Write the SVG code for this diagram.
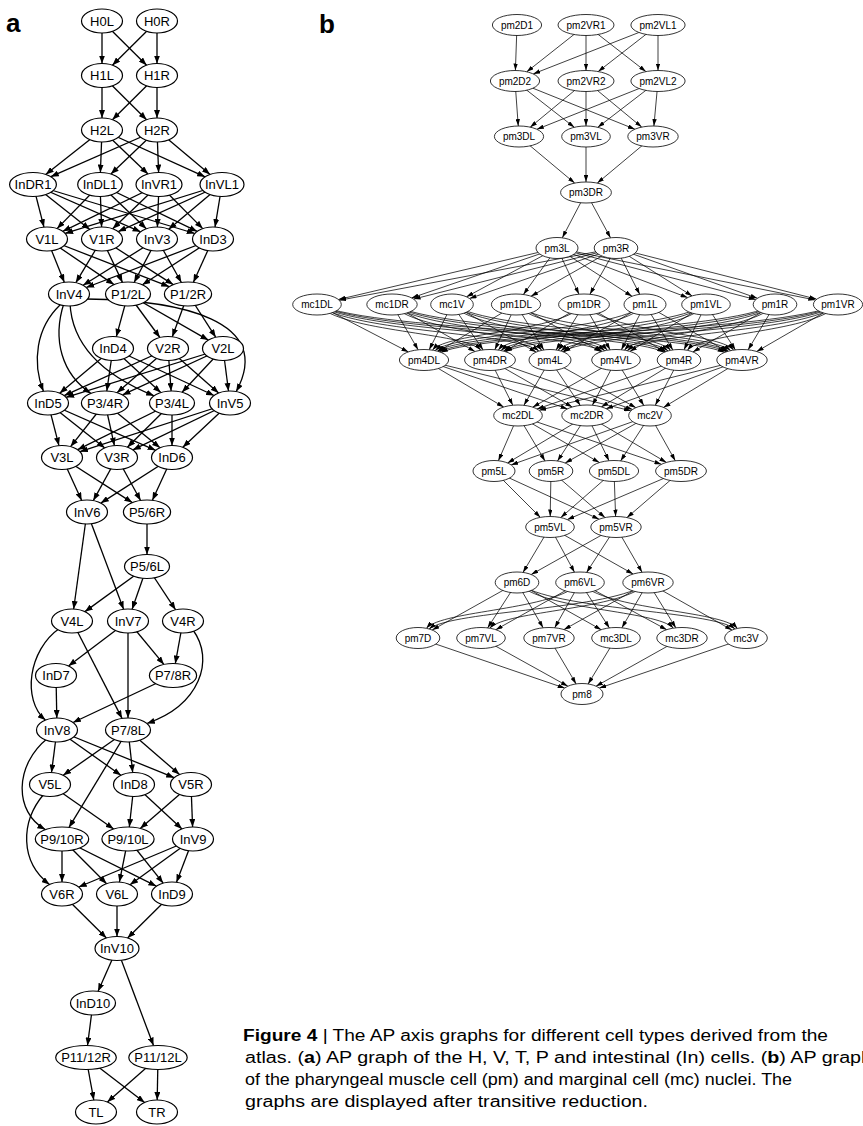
<svg xmlns="http://www.w3.org/2000/svg" width="863" height="1126" viewBox="0 0 863 1126">
<defs>
<marker id="arA" viewBox="0 0 8 6" refX="8" refY="3" markerWidth="8" markerHeight="6" orient="auto" markerUnits="userSpaceOnUse"><path d="M0,0 L8,3 L0,6 z" fill="#000"/></marker>
<marker id="arB" viewBox="0 0 7 4.4" refX="7" refY="2.2" markerWidth="7" markerHeight="4.4" orient="auto" markerUnits="userSpaceOnUse"><path d="M0,0 L7,2.2 L0,4.4 z" fill="#000"/></marker>
<style>
.na ellipse{fill:#fff;stroke:#000;stroke-width:1.2}
.na text{font-family:"Liberation Sans",Arial,sans-serif;font-size:13px;text-anchor:middle;fill:#000}
.nb ellipse{fill:#fff;stroke:#000;stroke-width:0.8}
.nb text{font-family:"Liberation Sans",Arial,sans-serif;font-size:10px;text-anchor:middle;fill:#000}
.ea path{fill:none;stroke:#000;stroke-width:1.3;marker-end:url(#arA)}
.eb path{fill:none;stroke:#000;stroke-width:0.75;marker-end:url(#arB)}
.lbl{font-family:"Liberation Sans",Arial,sans-serif;font-size:26px;font-weight:bold;fill:#000}
.cap{font-family:"Liberation Sans",Arial,sans-serif;font-size:16px;fill:#000}
</style>
</defs>
<rect width="863" height="1126" fill="#fff"/>

<g id="edges-a" class="ea">
<path d="M102,21 L102,63.5"/><path d="M102,21 L146.6,65.2"/><path d="M157,21 L112.4,65.2"/><path d="M157,21 L157,63.5"/>
<path d="M102,75.5 L102,118"/><path d="M102,75.5 L146.6,119.7"/><path d="M157,75.5 L112.4,119.7"/><path d="M157,75.5 L157,118"/>
<path d="M102,130 L45.7,174.4"/><path d="M157,130 L50.8,176.7"/><path d="M102,130 L100.4,172.5"/><path d="M157,130 L110.9,174"/>
<path d="M102,130 L148,174"/><path d="M157,130 L158.6,172.5"/><path d="M102,130 L205.1,176.8"/><path d="M157,130 L210,174.4"/>
<path d="M33,184.5 L43.95,227.1"/><path d="M100,184.5 L57.1,228.6"/><path d="M159,184.5 L62.8,231.3"/><path d="M222,184.5 L65.1,233.4"/>
<path d="M33,184.5 L89.8,229.4"/><path d="M100,184.5 L101.6,227"/><path d="M159,184.5 L112.7,228.8"/><path d="M222,184.5 L118.2,231.6"/>
<path d="M33,184.5 L140.6,231.8"/><path d="M100,184.5 L146.3,228.8"/><path d="M159,184.5 L157.4,227"/><path d="M222,184.5 L168.7,229.2"/>
<path d="M33,184.5 L194.8,233.5"/><path d="M100,184.5 L197.2,231.4"/><path d="M159,184.5 L202.7,228.6"/><path d="M222,184.5 L215,227.05"/>
<path d="M47,239 L64.3,282.3"/><path d="M102,239 L75.85,282.7"/><path d="M157,239 L83.1,285.3"/><path d="M213,239 L86.2,287.5"/>
<path d="M47,239 L114,284.6"/><path d="M102,239 L122.45,282.4"/><path d="M157,239 L134.1,282.5"/><path d="M213,239 L142.4,284.8"/>
<path d="M47,239 L169.2,286.7"/><path d="M102,239 L173.2,284.6"/><path d="M157,239 L181.4,282.5"/><path d="M213,239 L193.4,282.3"/>
<path d="M128,294 L116.3,336.65"/><path d="M128,294 L159.9,337.5"/><path d="M128,294 L208.35,340.1"/><path d="M188,294 L172.3,336.8"/><path d="M188,294 L215.8,337.3"/>
<path d="M60,305 C36,328 32,362 43.4,391.3"/>
<path d="M64,303 C52,340 62,374 90.8,393.4"/>
<path d="M70,303 C72,350 110,378 154.1,395.8"/>
<path d="M86,299 C180,300 275,320 236.2,391.6"/>
<path d="M113,348.5 L59.7,393.2"/><path d="M168,348.5 L64.2,395.6"/><path d="M223,348.5 L66.1,397.35"/>
<path d="M113,348.5 L106.8,391"/><path d="M168,348.5 L117,392.65"/><path d="M223,348.5 L122.5,394.9"/>
<path d="M113,348.5 L160.75,392.6"/><path d="M168,348.5 L171.1,391"/><path d="M223,348.5 L182.05,392.3"/>
<path d="M113,348.5 L214.05,395.5"/><path d="M168,348.5 L218.6,393"/><path d="M223,348.5 L228.5,391"/>
<path d="M48,403 L58.95,445.6"/><path d="M105,403 L70.6,446.6"/><path d="M172,403 L77.65,449.7"/><path d="M230,403 L79.9,451.7"/>
<path d="M48,403 L104.8,447.9"/><path d="M105,403 L114.4,445.6"/><path d="M172,403 L127.4,447.2"/><path d="M230,403 L132.8,449.9"/>
<path d="M48,403 L155.6,450.3"/><path d="M105,403 L160,447.8"/><path d="M172,403 L172,445.5"/><path d="M230,403 L182.8,447.3"/>
<path d="M62,457.5 L81.7,500.4"/><path d="M117,457.5 L93.3,500.6"/><path d="M172,457.5 L100.8,503.1"/>
<path d="M62,457.5 L132.3,502.6"/><path d="M117,457.5 L140.6,500.45"/><path d="M172,457.5 L152.4,500.3"/>
<path d="M147,512 L147,554.5"/><path d="M87,512 L73.65,609"/><path d="M87,512 L123.6,609.3"/>
<path d="M147,566.5 L84.9,611.65"/><path d="M147,566.5 L132.1,609.2"/><path d="M147,566.5 L175.6,609.8"/>
<path d="M128,621 L68.5,666"/><path d="M128,621 L163.9,664.4"/><path d="M183,621 L175.3,663.55"/>
<path d="M128,621 L128,718"/><path d="M72,621 L122.05,718.4"/>
<path d="M60,628 C28,650 22,700 45.4,720.1"/>
<path d="M193,630 C215,660 200,705 146.9,723.5"/>
<path d="M56,675.5 L56.8,718"/><path d="M173,675.5 L73,722.5"/>
<path d="M57,730 L51.5,772.5"/><path d="M57,730 L120.9,775.25"/><path d="M57,730 L174.2,777.65"/>
<path d="M128,730 L63.2,775.3"/><path d="M128,730 L132.7,772.5"/><path d="M128,730 L179.5,774.6"/>
<path d="M48,738 C14,765 14,812 45.3,829.6"/>
<path d="M128,730 L69,827.4"/>
<path d="M50,784.5 L113.65,829"/><path d="M134,784.5 L129.3,827"/><path d="M134,784.5 L182,828.9"/><path d="M191,784.5 L140.25,828.4"/><path d="M191,784.5 L192.6,827"/>
<path d="M44,794 C20,822 20,862 49.5,884.5"/>
<path d="M62,839 L62,882"/><path d="M62,839 L106.6,883.7"/><path d="M62,839 L156.35,886.2"/>
<path d="M128,839 L119.4,882.1"/><path d="M128,839 L163.2,883.15"/>
<path d="M193,839 L78.7,887"/><path d="M193,839 L130,884.7"/><path d="M193,839 L176.5,882.3"/>
<path d="M62,894 L106.4,938"/><path d="M117,894 L117,936.5"/><path d="M172,894 L127.6,938"/>
<path d="M117,948.5 L98.1,991.3"/><path d="M117,948.5 L153.5,1045.6"/>
<path d="M93,1003 L87.5,1045.5"/>
<path d="M86,1057.5 L93.8,1100.1"/><path d="M86,1057.5 L144.6,1102.45"/><path d="M158,1057.5 L107.4,1102"/><path d="M158,1057.5 L157.2,1100"/>
</g>

<g id="edges-b" class="eb">
<path d="M517,25 L515.4,70.5"/><path d="M586,25 L526.75,71.8"/><path d="M586,25 L586,70.5"/><path d="M586,25 L645.9,71.6"/>
<path d="M658,25 L533.2,73.9"/><path d="M658,25 L598.2,71.55"/><path d="M658,25 L658,70.5"/>
<path d="M515,81 L518.25,126"/><path d="M586,81 L530.2,127.2"/><path d="M658,81 L536.9,129.3"/>
<path d="M515,81 L574.3,127.3"/><path d="M586,81 L586,126"/><path d="M658,81 L597.8,127.3"/>
<path d="M515,81 L634.9,129.2"/><path d="M586,81 L641.7,127.1"/><path d="M658,81 L653.9,126"/>
<path d="M519,136.5 L574.7,183.1"/><path d="M586,136.5 L586,182"/><path d="M653,136.5 L597.3,183.1"/>
<path d="M586,192.5 L562.3,237.8"/><path d="M586,192.5 L610.5,237.8"/>
<path d="M557,248 L338.4,299.5"/><path d="M616,248 L339.3,300.3"/>
<path d="M557,248 L411.6,297.9"/><path d="M616,248 L413.6,299.1"/>
<path d="M557,248 L466.5,296.8"/><path d="M616,248 L469.5,298.5"/>
<path d="M557,248 L523.4,294.5"/><path d="M616,248 L531,296.2"/>
<path d="M557,248 L579,294.2"/><path d="M616,248 L589.9,294.3"/>
<path d="M557,248 L632,296.3"/><path d="M616,248 L639.7,294.3"/>
<path d="M557,248 L687.6,297.6"/><path d="M616,248 L692.1,295.9"/>
<path d="M557,248 L755.7,299.6"/><path d="M616,248 L757.4,298.3"/>
<path d="M557,248 L815.25,300"/><path d="M616,248 L816.4,299.1"/>
<path d="M317,304.5 L408.4,351.9"/><path d="M392,304.5 L418.1,349.8"/><path d="M452,304.5 L429.2,349.7"/><path d="M516,304.5 L438.2,351.4"/>
<path d="M584,304.5 C560,332.5 448,332 432.45,350.1"/>
<path d="M645,304.5 C611.85,332.5 457.15,332 435.1,350.6"/>
<path d="M706,304.5 C663.7,332.5 466.3,332 437.3,351.2"/>
<path d="M775,304.5 C722.35,332.5 476.65,332 439.4,351.8"/>
<path d="M838,304.5 C775.9,332.5 486.1,332 440.9,352.4"/>
<path d="M317,304.5 C342.95,332.5 464.05,332 480.9,350.2"/>
<path d="M392,304.5 L475,351.5"/><path d="M452,304.5 L483.1,349.9"/><path d="M516,304.5 L494.8,349.7"/><path d="M584,304.5 L504.6,351.4"/>
<path d="M645,304.5 C621.75,332.5 513.25,332 498.25,350.1"/>
<path d="M706,304.5 C673.6,332.5 522.4,332 501,350.5"/>
<path d="M775,304.5 C732.25,332.5 532.75,332 503.6,351.1"/>
<path d="M838,304.5 C785.8,332.5 542.2,332 505.5,351.7"/>
<path d="M317,304.5 C351.95,332.5 515.05,332 538.9,351.1"/>
<path d="M392,304.5 C415.7,332.5 526.3,332 541.8,350.3"/>
<path d="M452,304.5 L536.1,352.1"/><path d="M516,304.5 L543.85,350"/><path d="M584,304.5 L556.15,350"/><path d="M645,304.5 L563.65,352"/>
<path d="M706,304.5 C682.6,332.5 573.4,332 558.1,350.3"/>
<path d="M775,304.5 C741.25,332.5 583.75,332 560.8,351"/>
<path d="M838,304.5 C794.8,332.5 593.2,332 562.8,351.7"/>
<path d="M317,304.5 C361.85,332.5 571.15,332 602.2,351.4"/>
<path d="M392,304.5 C425.6,332.5 582.4,332 604.8,350.7"/>
<path d="M452,304.5 C476.6,332.5 591.4,332 607.4,350.2"/>
<path d="M516,304.5 L601.1,351.7"/><path d="M584,304.5 L610.1,349.8"/><path d="M645,304.5 L621.35,349.8"/><path d="M706,304.5 L629.9,351.4"/>
<path d="M775,304.5 C751.15,332.5 639.85,332 624.4,350.15"/>
<path d="M838,304.5 C804.7,332.5 649.3,332 627.1,350.7"/>
<path d="M317,304.5 C371.3,332.5 624.7,332 664.1,352.3"/>
<path d="M392,304.5 C435.05,332.5 635.95,332 666,351.6"/>
<path d="M452,304.5 C486.05,332.5 644.95,332 668,350.9"/>
<path d="M516,304.5 C540.45,332.5 654.55,332 670.55,350.3"/>
<path d="M584,304.5 L665.1,351.9"/><path d="M645,304.5 L672.8,349.9"/><path d="M706,304.5 L684,349.8"/><path d="M775,304.5 L692.95,351.9"/>
<path d="M838,304.5 C814.15,332.5 702.85,332 687.3,350.3"/>
<path d="M317,304.5 C380.75,332.5 678.25,332 724.7,352.4"/>
<path d="M392,304.5 C444.5,332.5 689.5,332 726.5,351.7"/>
<path d="M452,304.5 C495.5,332.5 698.5,332 728.3,351.2"/>
<path d="M516,304.5 C549.9,332.5 708.1,332 730.65,350.6"/>
<path d="M584,304.5 C607.7,332.5 718.3,332 733.6,350.1"/>
<path d="M645,304.5 L727.2,351.5"/><path d="M706,304.5 L735.4,349.9"/><path d="M775,304.5 L748.1,349.8"/><path d="M838,304.5 L756.7,351.5"/>
<path d="M424,360 L503.65,407"/><path d="M490,360 L512.8,405.2"/><path d="M550,360 L523.9,405.3"/><path d="M616,360 L532.7,407.15"/><path d="M679,360 L537,409"/><path d="M742,360 L539.1,410.3"/>
<path d="M424,360 L567.5,408.9"/><path d="M490,360 L572.2,407"/><path d="M550,360 L580.3,405.4"/><path d="M616,360 L592.4,405.2"/><path d="M679,360 L601.3,406.9"/><path d="M742,360 L606.1,408.7"/>
<path d="M424,360 L630.9,410.8"/><path d="M490,360 L632.6,409.5"/><path d="M550,360 L635.9,407.65"/><path d="M616,360 L643.8,405.45"/><path d="M679,360 L655.3,405.3"/><path d="M742,360 L663.5,407.4"/>
<path d="M518,415.5 L498.4,460.7"/><path d="M587,415.5 L507.5,463"/><path d="M650,415.5 L511.1,464.9"/>
<path d="M518,415.5 L545,460.9"/><path d="M587,415.5 L557.5,461"/><path d="M650,415.5 L565.2,463"/>
<path d="M518,415.5 L599.4,462.55"/><path d="M587,415.5 L609,460.7"/><path d="M650,415.5 L620.6,460.9"/>
<path d="M518,415.5 L661.4,464.3"/><path d="M587,415.5 L666.4,462.4"/><path d="M650,415.5 L675.3,460.8"/>
<path d="M494,471 L540.4,517.4"/><path d="M551,471 L550.2,516.5"/><path d="M614,471 L560.8,517.6"/><path d="M681,471 L567.3,519.6"/>
<path d="M494,471 L599.1,519.2"/><path d="M551,471 L605,517.55"/><path d="M614,471 L615.6,516.5"/><path d="M681,471 L627,517.55"/>
<path d="M550,527 L523,572.4"/><path d="M616,527 L531.2,574.5"/><path d="M550,527 L574.5,572.3"/><path d="M616,527 L586.6,572.4"/><path d="M550,527 L633.1,574"/><path d="M616,527 L642.1,572.3"/>
<path d="M517,582.5 L432.2,630"/>
<path d="M580,582.5 C555.7,610.5 442.3,610 426.4,628.3"/>
<path d="M648,582.5 C613.5,610.5 452.5,610 429.1,629"/>
<path d="M517,582.5 L487.6,627.9"/><path d="M580,582.5 L495.8,629.7"/>
<path d="M648,582.5 C622.95,610.5 506.05,610 489.8,628.2"/>
<path d="M517,582.5 L543.1,627.8"/><path d="M580,582.5 L554.7,627.8"/><path d="M648,582.5 L564,629.6"/>
<path d="M517,582.5 L601.2,629.7"/><path d="M580,582.5 L609.4,627.9"/><path d="M648,582.5 L621.9,627.8"/>
<path d="M517,582.5 C541.75,610.5 657.25,610 673.3,628.15"/>
<path d="M580,582.5 L666.7,629.7"/><path d="M648,582.5 L675.8,627.8"/>
<path d="M517,582.5 C551.35,610.5 711.65,610 735,629"/>
<path d="M580,582.5 C604.9,610.5 721.1,610 737.45,628.4"/>
<path d="M648,582.5 L732,630.1"/>
<path d="M418,638 L564.7,688.1"/><path d="M481,638 L567.9,686.2"/><path d="M549,638 L576.1,683.9"/><path d="M616,638 L588.1,684"/><path d="M682,638 L596,686.2"/><path d="M746,638 L599.3,688.1"/>
</g>

<g id="nodes-a" class="na">
<g id="n-H0L"><ellipse cx="102" cy="21" rx="20.5" ry="12"/><text x="102" y="25.6">H0L</text></g>
<g id="n-H0R"><ellipse cx="157" cy="21" rx="20.5" ry="12"/><text x="157" y="25.6">H0R</text></g>
<g id="n-H1L"><ellipse cx="102" cy="75.5" rx="20.5" ry="12"/><text x="102" y="80.1">H1L</text></g>
<g id="n-H1R"><ellipse cx="157" cy="75.5" rx="20.5" ry="12"/><text x="157" y="80.1">H1R</text></g>
<g id="n-H2L"><ellipse cx="102" cy="130" rx="20.5" ry="12"/><text x="102" y="134.6">H2L</text></g>
<g id="n-H2R"><ellipse cx="157" cy="130" rx="20.5" ry="12"/><text x="157" y="134.6">H2R</text></g>
<g id="n-InDR1"><ellipse cx="33" cy="184.5" rx="23.4" ry="12"/><text x="33" y="189.1">InDR1</text></g>
<g id="n-InDL1"><ellipse cx="100" cy="184.5" rx="22.3" ry="12"/><text x="100" y="189.1">InDL1</text></g>
<g id="n-InVR1"><ellipse cx="159" cy="184.5" rx="23" ry="12"/><text x="159" y="189.1">InVR1</text></g>
<g id="n-InVL1"><ellipse cx="222" cy="184.5" rx="22" ry="12"/><text x="222" y="189.1">InVL1</text></g>
<g id="n-V1L"><ellipse cx="47" cy="239" rx="20.5" ry="12"/><text x="47" y="243.6">V1L</text></g>
<g id="n-V1R"><ellipse cx="102" cy="239" rx="20.5" ry="12"/><text x="102" y="243.6">V1R</text></g>
<g id="n-InV3"><ellipse cx="157" cy="239" rx="20.5" ry="12"/><text x="157" y="243.6">InV3</text></g>
<g id="n-InD3"><ellipse cx="213" cy="239" rx="20.5" ry="12"/><text x="213" y="243.6">InD3</text></g>
<g id="n-InV4"><ellipse cx="69" cy="294" rx="20.5" ry="12"/><text x="69" y="298.6">InV4</text></g>
<g id="n-P1_2L"><ellipse cx="128" cy="294" rx="22.5" ry="12"/><text x="128" y="298.6">P1/2L</text></g>
<g id="n-P1_2R"><ellipse cx="188" cy="294" rx="23.6" ry="12"/><text x="188" y="298.6">P1/2R</text></g>
<g id="n-InD4"><ellipse cx="113" cy="348.5" rx="20.5" ry="12"/><text x="113" y="353.1">InD4</text></g>
<g id="n-V2R"><ellipse cx="168" cy="348.5" rx="20.5" ry="12"/><text x="168" y="353.1">V2R</text></g>
<g id="n-V2L"><ellipse cx="223" cy="348.5" rx="20.5" ry="12"/><text x="223" y="353.1">V2L</text></g>
<g id="n-InD5"><ellipse cx="48" cy="403" rx="20.5" ry="12"/><text x="48" y="407.6">InD5</text></g>
<g id="n-P3_4R"><ellipse cx="105" cy="403" rx="23.6" ry="12"/><text x="105" y="407.6">P3/4R</text></g>
<g id="n-P3_4L"><ellipse cx="172" cy="403" rx="22.5" ry="12"/><text x="172" y="407.6">P3/4L</text></g>
<g id="n-InV5"><ellipse cx="230" cy="403" rx="20.5" ry="12"/><text x="230" y="407.6">InV5</text></g>
<g id="n-V3L"><ellipse cx="62" cy="457.5" rx="20.5" ry="12"/><text x="62" y="462.1">V3L</text></g>
<g id="n-V3R"><ellipse cx="117" cy="457.5" rx="20.5" ry="12"/><text x="117" y="462.1">V3R</text></g>
<g id="n-InD6"><ellipse cx="172" cy="457.5" rx="20.5" ry="12"/><text x="172" y="462.1">InD6</text></g>
<g id="n-InV6"><ellipse cx="87" cy="512" rx="20.5" ry="12"/><text x="87" y="516.6">InV6</text></g>
<g id="n-P5_6R"><ellipse cx="147" cy="512" rx="23.6" ry="12"/><text x="147" y="516.6">P5/6R</text></g>
<g id="n-P5_6L"><ellipse cx="147" cy="566.5" rx="22.5" ry="12"/><text x="147" y="571.1">P5/6L</text></g>
<g id="n-V4L"><ellipse cx="72" cy="621" rx="20.5" ry="12"/><text x="72" y="625.6">V4L</text></g>
<g id="n-InV7"><ellipse cx="128" cy="621" rx="20.5" ry="12"/><text x="128" y="625.6">InV7</text></g>
<g id="n-V4R"><ellipse cx="183" cy="621" rx="20.5" ry="12"/><text x="183" y="625.6">V4R</text></g>
<g id="n-InD7"><ellipse cx="56" cy="675.5" rx="20.5" ry="12"/><text x="56" y="680.1">InD7</text></g>
<g id="n-P7_8R"><ellipse cx="173" cy="675.5" rx="23.6" ry="12"/><text x="173" y="680.1">P7/8R</text></g>
<g id="n-InV8"><ellipse cx="57" cy="730" rx="20.5" ry="12"/><text x="57" y="734.6">InV8</text></g>
<g id="n-P7_8L"><ellipse cx="128" cy="730" rx="22.5" ry="12"/><text x="128" y="734.6">P7/8L</text></g>
<g id="n-V5L"><ellipse cx="50" cy="784.5" rx="20.5" ry="12"/><text x="50" y="789.1">V5L</text></g>
<g id="n-InD8"><ellipse cx="134" cy="784.5" rx="20.5" ry="12"/><text x="134" y="789.1">InD8</text></g>
<g id="n-V5R"><ellipse cx="191" cy="784.5" rx="20.5" ry="12"/><text x="191" y="789.1">V5R</text></g>
<g id="n-P9_10R"><ellipse cx="62" cy="839" rx="26.7" ry="12"/><text x="62" y="843.6">P9/10R</text></g>
<g id="n-P9_10L"><ellipse cx="128" cy="839" rx="26.1" ry="12"/><text x="128" y="843.6">P9/10L</text></g>
<g id="n-InV9"><ellipse cx="193" cy="839" rx="20.5" ry="12"/><text x="193" y="843.6">InV9</text></g>
<g id="n-V6R"><ellipse cx="62" cy="894" rx="20.5" ry="12"/><text x="62" y="898.6">V6R</text></g>
<g id="n-V6L"><ellipse cx="117" cy="894" rx="20.5" ry="12"/><text x="117" y="898.6">V6L</text></g>
<g id="n-InD9"><ellipse cx="172" cy="894" rx="20.5" ry="12"/><text x="172" y="898.6">InD9</text></g>
<g id="n-InV10"><ellipse cx="117" cy="948.5" rx="22" ry="12"/><text x="117" y="953.1">InV10</text></g>
<g id="n-InD10"><ellipse cx="93" cy="1003" rx="22.5" ry="12"/><text x="93" y="1007.6">InD10</text></g>
<g id="n-P11_12R"><ellipse cx="86" cy="1057.5" rx="30.3" ry="12"/><text x="86" y="1062.1">P11/12R</text></g>
<g id="n-P11_12L"><ellipse cx="158" cy="1057.5" rx="29.2" ry="12"/><text x="158" y="1062.1">P11/12L</text></g>
<g id="n-TL"><ellipse cx="96" cy="1112" rx="20.5" ry="12"/><text x="96" y="1116.6">TL</text></g>
<g id="n-TR"><ellipse cx="157" cy="1112" rx="20.5" ry="12"/><text x="157" y="1116.6">TR</text></g>
</g>

<g id="nodes-b" class="nb">
<g id="n-pm2D1"><ellipse cx="517" cy="25" rx="24.6" ry="10.5"/><text x="517" y="28.6">pm2D1</text></g>
<g id="n-pm2VR1"><ellipse cx="586" cy="25" rx="28" ry="10.5"/><text x="586" y="28.6">pm2VR1</text></g>
<g id="n-pm2VL1"><ellipse cx="658" cy="25" rx="27.1" ry="10.5"/><text x="658" y="28.6">pm2VL1</text></g>
<g id="n-pm2D2"><ellipse cx="515" cy="81" rx="24.6" ry="10.5"/><text x="515" y="84.6">pm2D2</text></g>
<g id="n-pm2VR2"><ellipse cx="586" cy="81" rx="28" ry="10.5"/><text x="586" y="84.6">pm2VR2</text></g>
<g id="n-pm2VL2"><ellipse cx="658" cy="81" rx="27.1" ry="10.5"/><text x="658" y="84.6">pm2VL2</text></g>
<g id="n-pm3DL"><ellipse cx="519" cy="136.5" rx="24.6" ry="10.5"/><text x="519" y="140.1">pm3DL</text></g>
<g id="n-pm3VL"><ellipse cx="586" cy="136.5" rx="24.3" ry="10.5"/><text x="586" y="140.1">pm3VL</text></g>
<g id="n-pm3VR"><ellipse cx="653" cy="136.5" rx="25.2" ry="10.5"/><text x="653" y="140.1">pm3VR</text></g>
<g id="n-pm3DR"><ellipse cx="586" cy="192.5" rx="25.4" ry="10.5"/><text x="586" y="196.1">pm3DR</text></g>
<g id="n-pm3L"><ellipse cx="557" cy="248" rx="21" ry="10.5"/><text x="557" y="251.6">pm3L</text></g>
<g id="n-pm3R"><ellipse cx="616" cy="248" rx="21.8" ry="10.5"/><text x="616" y="251.6">pm3R</text></g>
<g id="n-mc1DL"><ellipse cx="317" cy="304.5" rx="24.3" ry="10.5"/><text x="317" y="308.1">mc1DL</text></g>
<g id="n-mc1DR"><ellipse cx="392" cy="304.5" rx="25.2" ry="10.5"/><text x="392" y="308.1">mc1DR</text></g>
<g id="n-mc1V"><ellipse cx="452" cy="304.5" rx="21.3" ry="10.5"/><text x="452" y="308.1">mc1V</text></g>
<g id="n-pm1DL"><ellipse cx="516" cy="304.5" rx="24.6" ry="10.5"/><text x="516" y="308.1">pm1DL</text></g>
<g id="n-pm1DR"><ellipse cx="584" cy="304.5" rx="25.4" ry="10.5"/><text x="584" y="308.1">pm1DR</text></g>
<g id="n-pm1L"><ellipse cx="645" cy="304.5" rx="21" ry="10.5"/><text x="645" y="308.1">pm1L</text></g>
<g id="n-pm1VL"><ellipse cx="706" cy="304.5" rx="24.3" ry="10.5"/><text x="706" y="308.1">pm1VL</text></g>
<g id="n-pm1R"><ellipse cx="775" cy="304.5" rx="21.8" ry="10.5"/><text x="775" y="308.1">pm1R</text></g>
<g id="n-pm1VR"><ellipse cx="838" cy="304.5" rx="24.6" ry="10.5"/><text x="838" y="308.1">pm1VR</text></g>
<g id="n-pm4DL"><ellipse cx="424" cy="360" rx="24.6" ry="10.5"/><text x="424" y="363.6">pm4DL</text></g>
<g id="n-pm4DR"><ellipse cx="490" cy="360" rx="25.4" ry="10.5"/><text x="490" y="363.6">pm4DR</text></g>
<g id="n-pm4L"><ellipse cx="550" cy="360" rx="21" ry="10.5"/><text x="550" y="363.6">pm4L</text></g>
<g id="n-pm4VL"><ellipse cx="616" cy="360" rx="24.3" ry="10.5"/><text x="616" y="363.6">pm4VL</text></g>
<g id="n-pm4R"><ellipse cx="679" cy="360" rx="21.8" ry="10.5"/><text x="679" y="363.6">pm4R</text></g>
<g id="n-pm4VR"><ellipse cx="742" cy="360" rx="25.2" ry="10.5"/><text x="742" y="363.6">pm4VR</text></g>
<g id="n-mc2DL"><ellipse cx="518" cy="415.5" rx="24.3" ry="10.5"/><text x="518" y="419.1">mc2DL</text></g>
<g id="n-mc2DR"><ellipse cx="587" cy="415.5" rx="25.2" ry="10.5"/><text x="587" y="419.1">mc2DR</text></g>
<g id="n-mc2V"><ellipse cx="650" cy="415.5" rx="21.3" ry="10.5"/><text x="650" y="419.1">mc2V</text></g>
<g id="n-pm5L"><ellipse cx="494" cy="471" rx="21" ry="10.5"/><text x="494" y="474.6">pm5L</text></g>
<g id="n-pm5R"><ellipse cx="551" cy="471" rx="21.8" ry="10.5"/><text x="551" y="474.6">pm5R</text></g>
<g id="n-pm5DL"><ellipse cx="614" cy="471" rx="24.6" ry="10.5"/><text x="614" y="474.6">pm5DL</text></g>
<g id="n-pm5DR"><ellipse cx="681" cy="471" rx="25.4" ry="10.5"/><text x="681" y="474.6">pm5DR</text></g>
<g id="n-pm5VL"><ellipse cx="550" cy="527" rx="24.3" ry="10.5"/><text x="550" y="530.6">pm5VL</text></g>
<g id="n-pm5VR"><ellipse cx="616" cy="527" rx="25.2" ry="10.5"/><text x="616" y="530.6">pm5VR</text></g>
<g id="n-pm6D"><ellipse cx="517" cy="582.5" rx="21.8" ry="10.5"/><text x="517" y="586.1">pm6D</text></g>
<g id="n-pm6VL"><ellipse cx="580" cy="582.5" rx="24.3" ry="10.5"/><text x="580" y="586.1">pm6VL</text></g>
<g id="n-pm6VR"><ellipse cx="648" cy="582.5" rx="25.2" ry="10.5"/><text x="648" y="586.1">pm6VR</text></g>
<g id="n-pm7D"><ellipse cx="418" cy="638" rx="21.8" ry="10.5"/><text x="418" y="641.6">pm7D</text></g>
<g id="n-pm7VL"><ellipse cx="481" cy="638" rx="24.3" ry="10.5"/><text x="481" y="641.6">pm7VL</text></g>
<g id="n-pm7VR"><ellipse cx="549" cy="638" rx="25.2" ry="10.5"/><text x="549" y="641.6">pm7VR</text></g>
<g id="n-mc3DL"><ellipse cx="616" cy="638" rx="24.3" ry="10.5"/><text x="616" y="641.6">mc3DL</text></g>
<g id="n-mc3DR"><ellipse cx="682" cy="638" rx="25.2" ry="10.5"/><text x="682" y="641.6">mc3DR</text></g>
<g id="n-mc3V"><ellipse cx="746" cy="638" rx="21.3" ry="10.5"/><text x="746" y="641.6">mc3V</text></g>
<g id="n-pm8"><ellipse cx="582" cy="694" rx="21" ry="10.5"/><text x="582" y="697.6">pm8</text></g>
</g>

<g id="labels">
<text class="lbl" x="6" y="32">a</text>
<text class="lbl" x="319" y="33">b</text>
</g>

<g id="caption" class="cap">
<text x="243" y="1041" textLength="585" lengthAdjust="spacingAndGlyphs"><tspan font-weight="bold">Figure 4</tspan> | The AP axis graphs for different cell types derived from the</text>
<text x="245" y="1063" textLength="627" lengthAdjust="spacingAndGlyphs">atlas. (<tspan font-weight="bold">a</tspan>) AP graph of the H, V, T, P and intestinal (In) cells. (<tspan font-weight="bold">b</tspan>) AP graph</text>
<text x="245" y="1085" textLength="547" lengthAdjust="spacingAndGlyphs">of the pharyngeal muscle cell (pm) and marginal cell (mc) nuclei. The</text>
<text x="245" y="1107" textLength="403" lengthAdjust="spacingAndGlyphs">graphs are displayed after transitive reduction.</text>
</g>
</svg>
